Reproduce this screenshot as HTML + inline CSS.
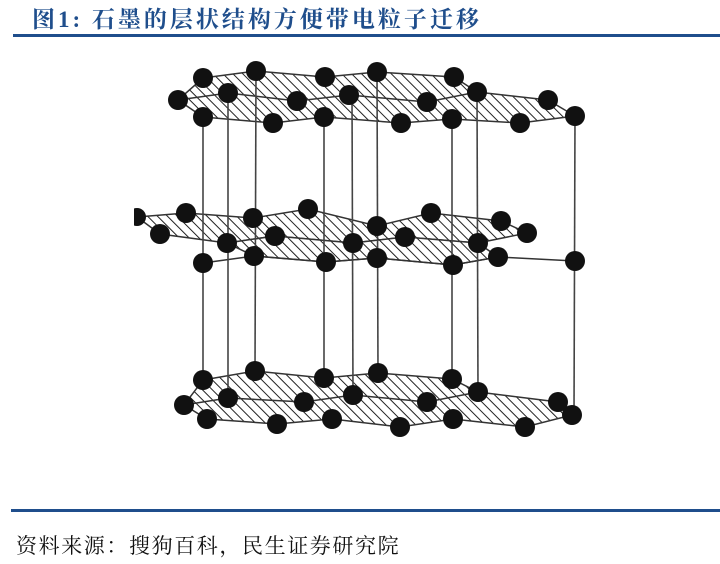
<!DOCTYPE html>
<html><head><meta charset="utf-8"><style>
html,body{margin:0;padding:0;background:#fff;}
body{width:720px;height:564px;position:relative;overflow:hidden;}
.t{position:absolute;left:32px;top:1px;font:bold 23px "Liberation Serif","Noto Serif CJK SC",serif;color:#1f4e8c;letter-spacing:3px;white-space:nowrap;}
.l1{position:absolute;left:13px;top:34px;width:707px;height:3px;background:#1f4e8c;}
.l2{position:absolute;left:11px;top:509px;width:709px;height:3px;background:#1f4e8c;}
.f{position:absolute;left:16px;top:530px;font:21px "Liberation Serif","Noto Serif CJK SC",serif;color:#111;letter-spacing:1.6px;white-space:nowrap;}
svg{position:absolute;left:0;top:0;}
</style></head><body>
<div class="t">图1: 石墨的层状结构方便带电粒子迁移</div>
<div class="l1"></div>
<svg width="720" height="564">
<defs><pattern id="h" width="7" height="7" patternUnits="userSpaceOnUse" patternTransform="rotate(-45)"><rect width="7" height="7" fill="#fff"/><line x1="0" y1="0" x2="0" y2="7" stroke="#222" stroke-width="2"/></pattern></defs>
<g stroke="#333" stroke-width="1.5" fill="url(#h)">
<polygon points="203,78 256,71 325,77 377,72 454,77 477,92 548,100 575,116 520,123 452,119 401,123 324,117 273,123 203,117 178,100"/>
<polyline fill="none" points="178,100 228,93 297,101 349,95 427,102 477,92"/>
<polygon points="137,217 186,213 253,218 308,209 377,226 431,213 501,221 527,233 478,243 405,237 353,243 275,236 227,243 160,234"/>
<polygon points="227,243 275,236 353,243 405,237 478,243 498,257 453,265 377,258 326,262 254,256"/>
<polyline fill="none" points="203,263 254,256 326,262 377,258 453,265 498,257 575,261"/>
<polygon points="203,380 255,371 324,378 378,373 452,379 478,392 558,402 572,415 525,427 453,419 400,427 332,419 277,424 207,419 184,405"/>
<polyline fill="none" points="184,405 228,398 304,402 353,395 427,402 478,392"/>
</g>
<g stroke="#444" stroke-width="1.6">
<line x1="203" y1="117" x2="203" y2="380"/><line x1="228" y1="93" x2="228" y2="398"/>
<line x1="256" y1="71" x2="255" y2="371"/><line x1="324" y1="117" x2="324" y2="378"/>
<line x1="352" y1="95" x2="353" y2="395"/><line x1="377" y1="72" x2="378" y2="373"/>
<line x1="452" y1="119" x2="452" y2="379"/><line x1="477" y1="92" x2="478" y2="392"/>
<line x1="575" y1="116" x2="574" y2="415"/>
</g>
<g fill="#111">
<circle cx="203" cy="78" r="10"/><circle cx="256" cy="71" r="10"/><circle cx="325" cy="77" r="10"/><circle cx="377" cy="72" r="10"/><circle cx="454" cy="77" r="10"/>
<circle cx="178" cy="100" r="10"/><circle cx="228" cy="93" r="10"/><circle cx="297" cy="101" r="10"/><circle cx="349" cy="95" r="10"/><circle cx="427" cy="102" r="10"/><circle cx="477" cy="92" r="10"/><circle cx="548" cy="100" r="10"/>
<circle cx="203" cy="117" r="10"/><circle cx="273" cy="123" r="10"/><circle cx="324" cy="117" r="10"/><circle cx="401" cy="123" r="10"/><circle cx="452" cy="119" r="10"/><circle cx="520" cy="123" r="10"/><circle cx="575" cy="116" r="10"/>
<circle cx="137" cy="217" r="9"/><circle cx="186" cy="213" r="10"/><circle cx="253" cy="218" r="10"/><circle cx="308" cy="209" r="10"/><circle cx="377" cy="226" r="10"/><circle cx="431" cy="213" r="10"/><circle cx="501" cy="221" r="10"/>
<circle cx="160" cy="234" r="10"/><circle cx="227" cy="243" r="10"/><circle cx="275" cy="236" r="10"/><circle cx="353" cy="243" r="10"/><circle cx="405" cy="237" r="10"/><circle cx="478" cy="243" r="10"/><circle cx="527" cy="233" r="10"/>
<circle cx="203" cy="263" r="10"/><circle cx="254" cy="256" r="10"/><circle cx="326" cy="262" r="10"/><circle cx="377" cy="258" r="10"/><circle cx="453" cy="265" r="10"/><circle cx="498" cy="257" r="10"/><circle cx="575" cy="261" r="10"/>
<circle cx="203" cy="380" r="10"/><circle cx="255" cy="371" r="10"/><circle cx="324" cy="378" r="10"/><circle cx="378" cy="373" r="10"/><circle cx="452" cy="379" r="10"/>
<circle cx="184" cy="405" r="10"/><circle cx="228" cy="398" r="10"/><circle cx="304" cy="402" r="10"/><circle cx="353" cy="395" r="10"/><circle cx="427" cy="402" r="10"/><circle cx="478" cy="392" r="10"/><circle cx="558" cy="402" r="10"/>
<circle cx="207" cy="419" r="10"/><circle cx="277" cy="424" r="10"/><circle cx="332" cy="419" r="10"/><circle cx="400" cy="427" r="10"/><circle cx="453" cy="419" r="10"/><circle cx="525" cy="427" r="10"/><circle cx="572" cy="415" r="10"/>
</g>
<rect x="0" y="200" width="134" height="40" fill="#fff"/>
</svg>
<div class="l2"></div>
<div class="f">资料来源：搜狗百科，民生证券研究院</div>
</body></html>
